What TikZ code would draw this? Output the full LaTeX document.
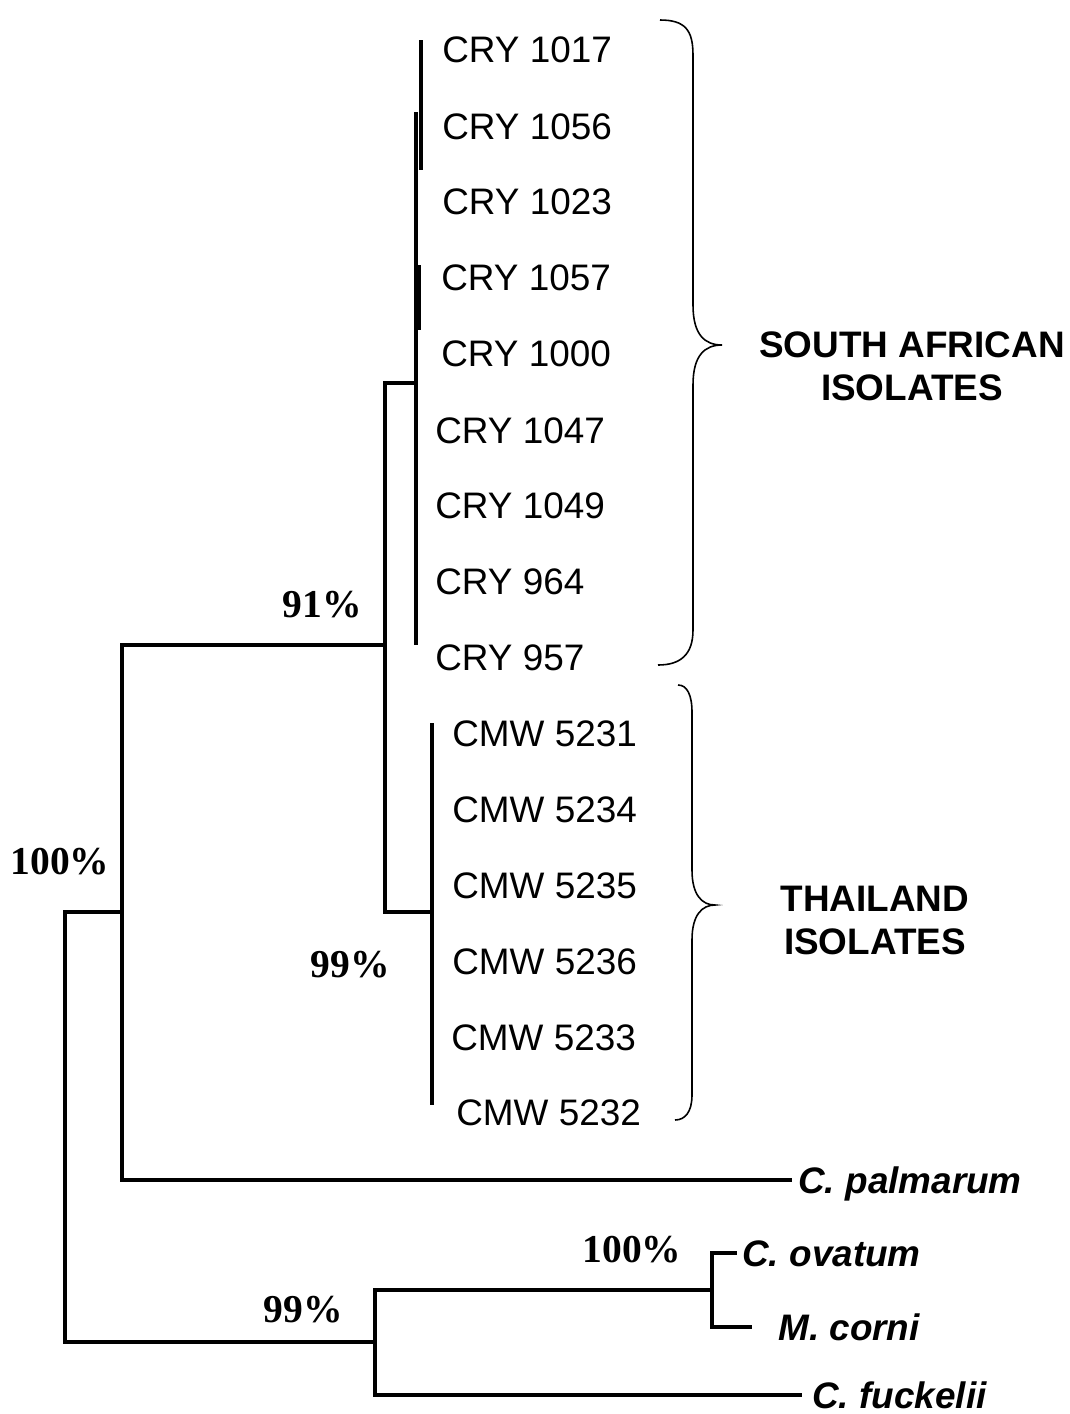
\documentclass[tikz,border=0pt]{standalone}
\usepackage{fontspec}
\setmainfont{Liberation Sans}
\newfontfamily\pctfont{Liberation Serif}
\usetikzlibrary{calc}

\begin{document}
\begin{tikzpicture}[
  x=0.02cm, y=-0.02cm,
  branch/.style={line width=2.2pt, line cap=rect},
  leaf/.style={
    anchor=west, inner sep=0pt,
    text height=15pt, text depth=0pt,
    font=\fontsize{21}{25}\selectfont
  },
  species/.style={leaf, font=\fontsize{21}{25}\selectfont\bfseries\itshape},
  boot/.style={inner sep=0pt, font=\fontsize{22.5}{27}\selectfont\pctfont\bfseries},
  group/.style={align=center, inner sep=0pt,
    font=\fontsize{21}{24.5}\selectfont\bfseries},
  brace/.style={line width=0.9pt}
]
\useasboundingbox (0,0) rectangle (1069,1414);

% Internal nodes of the tree
\coordinate (root)  at (65,1127);
\coordinate (n100)  at (122,912);
\coordinate (n91)   at (385,645);
\coordinate (sa)    at (416,383);
\coordinate (th)    at (432,912);
\coordinate (nout)  at (375,1342);
\coordinate (nov)   at (712,1290);

% South African isolates
\foreach \n/\xx/\yy in {1017/442/49, 1056/442/126, 1023/442/201,
                        1057/441/277, 1000/441/353, 1047/435/430,
                        1049/435/505, 964/435/581, 957/435/657}{
  \node[leaf] (cry\n) at (\xx,\yy) {CRY \n};
}

% Thailand isolates
\foreach \n/\xx/\yy in {5231/452/733, 5234/452/809, 5235/452/885,
                        5236/452/961, 5233/451/1037, 5232/456/1112}{
  \node[leaf] (cmw\n) at (\xx,\yy) {CMW \n};
}

% Outgroups
\node[species] (palm)  at (798,1180) {C. palmarum};
\node[species] (ovat)  at (742,1253) {C. ovatum};
\node[species] (corni) at (778,1327) {M. corni};
\node[species] (fuck)  at (812,1395) {C. fuckelii};

% Cluster bars
\coordinate (saA) at (421,40);
\coordinate (saB) at (421,170);
\coordinate (saC) at (416,112);
\coordinate (saD) at (416,645);
\coordinate (saE) at (418,265);
\coordinate (saF) at (418,330);
\coordinate (thA) at (432,725);
\coordinate (thB) at (432,1103);
\draw[line width=1.8pt] (saA) -- (saB);
\draw[line width=1.8pt] (saC) -- (saD);
\draw[line width=3.4pt] (saE) -- (saF);
\draw[branch] (thA) -- (thB);

% Branches
\draw[branch] (root) |- (n100);
\draw[branch] (root) |- (nout);
\draw[branch] (n100) |- (n91);
\draw[branch, shorten >=0.16cm] (n100) |- (palm.west);
\draw[branch] (n91) |- (sa);
\draw[branch] (n91) |- (th);
\draw[branch] (nout) |- (nov);
\draw[branch, shorten >=0.24cm] (nout) |- (fuck.west);
\draw[branch, shorten >=0.14cm] (nov) |- (ovat.west);
\draw[branch, shorten >=0.56cm] (nov) |- (corni.west);

% Bootstrap values
\node[boot] (b91)   at (322,605)  {91\%};
\node[boot] (b100a) at (60,862)   {100\%};
\node[boot] (b99a)  at (350,965)  {99\%};
\node[boot] (b99b)  at (303,1310) {99\%};
\node[boot] (b100b) at (632,1250) {100\%};

% Braces
\draw[brace] (660,20) .. controls (685,20) and (693,30) .. (693,55)
  -- (693,305) .. controls (693,335) and (705,345) .. (722,345)
  .. controls (705,345) and (693,355) .. (693,385)
  -- (693,630) .. controls (693,655) and (680,665) .. (658,665);
\draw[brace] (678,685) .. controls (687,685) and (692,695) .. (692,712)
  -- (692,870) .. controls (692,895) and (702,905) .. (715,905)
  .. controls (702,905) and (692,915) .. (692,940)
  -- (692,1095) .. controls (692,1112) and (685,1120) .. (675,1120);

% Group labels
\node[group] (sagrp) at (912,366) {SOUTH AFRICAN\\ISOLATES};
\node[group] (thgrp) at (875,920) {THAILAND\\ISOLATES};

\end{tikzpicture}
\end{document}
